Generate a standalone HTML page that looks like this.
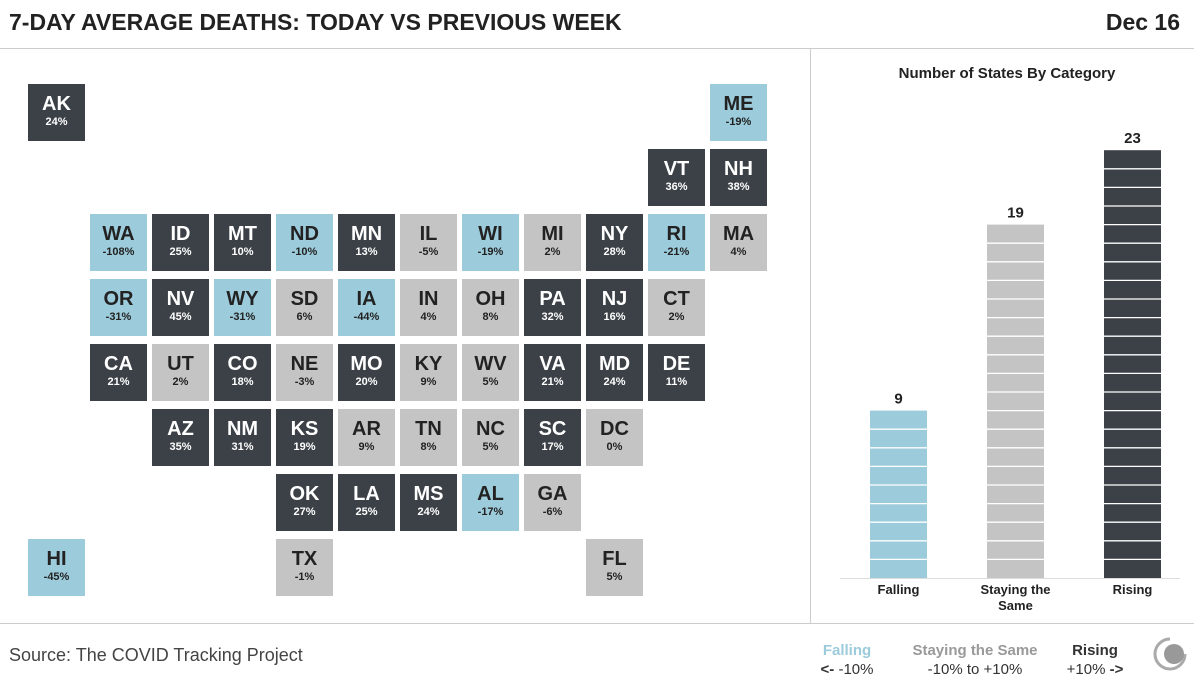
<!DOCTYPE html>
<html><head><meta charset="utf-8"><style>
body{margin:0;width:1194px;height:691px;background:#fff;font-family:"Liberation Sans",sans-serif;position:relative;overflow:hidden}
.t{position:absolute;width:57px;height:57px;text-align:center;color:#fff}
.t b{display:block;font-size:20px;margin-top:9px;line-height:22px}
.t span{display:block;font-size:11px;font-weight:bold;line-height:14px}
.d{background:#3b4147}.g{background:#c4c4c4;color:#222}.f{background:#9ccbdb;color:#222}
</style></head><body>
<div style="position:absolute;left:9px;top:9px;font-size:23px;font-weight:bold;color:#222">7-DAY AVERAGE DEATHS: TODAY VS PREVIOUS WEEK</div>
<div style="position:absolute;right:14px;top:9px;font-size:23px;font-weight:bold;color:#222">Dec 16</div>
<div style="position:absolute;left:0;top:48px;width:1194px;height:1px;background:#ccc"></div>
<div style="position:absolute;left:0;top:623px;width:1194px;height:1px;background:#ccc"></div>
<div style="position:absolute;left:810px;top:48px;width:1px;height:575px;background:#ccc"></div>
<div id="map"></div>
<svg id="bars" width="1194" height="691" style="position:absolute;left:0;top:0"></svg>
<div style="position:absolute;left:9px;top:645px;font-size:18px;color:#444">Source: The COVID Tracking Project</div>
<div style="position:absolute;left:812px;top:641px;width:70px;text-align:center;font-size:15px;line-height:19px"><b style="color:#9ccbdb">Falling</b><br><span style="color:#333"><b>&lt;-</b> -10%</span></div>
<div style="position:absolute;left:900px;top:641px;width:150px;text-align:center;font-size:15px;line-height:19px"><b style="color:#999">Staying the Same</b><br><span style="color:#333">-10% to +10%</span></div>
<div style="position:absolute;left:1060px;top:641px;width:70px;text-align:center;font-size:15px;line-height:19px"><b style="color:#333">Rising</b><br><span style="color:#333">+10% <b>-&gt;</b></span></div>
<svg style="position:absolute;left:1152px;top:636px" width="36" height="36"><path d="M18 3 A15 15 0 1 0 33 18" fill="none" stroke="#aaa" stroke-width="3"/><circle cx="22" cy="18" r="10" fill="#999"/></svg>
<script>
const states=["AK","ME","VT","NH","WA","ID","MT","ND","MN","IL","WI","MI","NY","RI","MA","OR","NV","WY","SD","IA","IN","OH","PA","NJ","CT","CA","UT","CO","NE","MO","KY","WV","VA","MD","DE","AZ","NM","KS","AR","TN","NC","SC","DC","OK","LA","MS","AL","GA","HI","TX","FL"];
const cols=[0,11,10,11,1,2,3,4,5,6,7,8,9,10,11,1,2,3,4,5,6,7,8,9,10,1,2,3,4,5,6,7,8,9,10,2,3,4,5,6,7,8,9,4,5,6,7,8,0,4,9];
const rows=[0,0,1,1,2,2,2,2,2,2,2,2,2,2,2,3,3,3,3,3,3,3,3,3,3,4,4,4,4,4,4,4,4,4,4,5,5,5,5,5,5,5,5,6,6,6,6,6,7,7,7];
const changes=[24,-19,36,38,-108,25,10,-10,13,-5,-19,2,28,-21,4,-31,45,-31,6,-44,4,8,32,16,2,21,2,18,-3,20,9,5,21,24,11,35,31,19,9,8,5,17,0,27,25,24,-17,-6,-45,-1,5];
const map=document.getElementById('map');
states.forEach((s,i)=>{
 const v=changes[i];
 const el=document.createElement('div');
 
 
 el.className='t '+(v<=-10?'f':(v>=10?'d':'g'));
 el.style.left=(28+62*cols[i])+'px';el.style.top=(84+65*rows[i])+'px';
 el.innerHTML='<b>'+s+'</b><span>'+v+'%</span>';
 map.appendChild(el);
});
const cats=["Falling","Staying the Same","Rising"];
const counts=[9,19,23];
const colors=["#9ccbdb","#c4c4c4","#3b4147"];
const svg=document.getElementById('bars');const NS='http://www.w3.org/2000/svg';
const base=578,unit=18.6,x0=870,step=117,bw=57;
function y(v){return base-v*unit}
function mk(t,a){const e=document.createElementNS(NS,t);for(const k in a)e.setAttribute(k,a[k]);svg.appendChild(e);return e}
const tt=mk('text',{x:1007,y:78,'text-anchor':'middle','font-size':15,'font-weight':'bold',fill:'#222'});


tt.textContent='Number of States By Category';
const ax=mk('line',{x1:840,x2:1180,y1:base+0.5,y2:base+0.5,stroke:'#ddd'});


cats.forEach((c,i)=>{
 const x=x0+i*step;
 const r=mk('rect',{x:x,y:y(counts[i]),width:bw,height:base-y(counts[i]),fill:colors[i]});
 
 
 for(let k=1;k<counts[i];k++){const l=mk('line',{x1:x,x2:x+bw,y1:y(k),y2:y(k),stroke:'#fff','stroke-width':1.3});}
 const v=mk('text',{x:x+bw/2,y:y(counts[i])-7,'text-anchor':'middle','font-size':15,'font-weight':'bold',fill:'#222'});
 
 
 v.textContent=counts[i];
 const words=c==="Staying the Same"?["Staying the","Same"]:[c];
 words.forEach((w,j)=>{const t=mk('text',{x:x+bw/2,y:base+16+j*16,'text-anchor':'middle','font-size':13,'font-weight':'bold',fill:'#222'});t.textContent=w;});
});
</script>
</body></html>
